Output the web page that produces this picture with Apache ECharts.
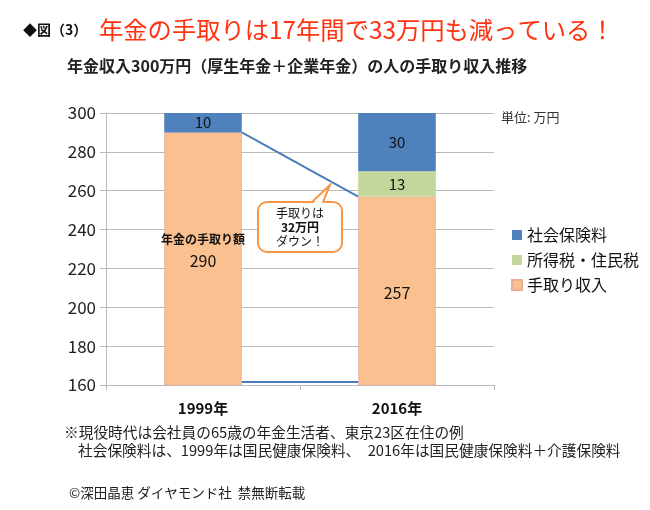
<!DOCTYPE html>
<html><head><meta charset="utf-8">
<script src="https://cdn.jsdelivr.net/npm/echarts@6/dist/echarts.min.js"></script>
<style>html,body{margin:0;padding:0;background:#fff}#c{width:650px;height:510px}</style>
</head><body><div id="c"></div>
<script>
const categories = ['1999年', '2016年'];
const takeHome = [290, 257];
const incomeTax = [0, 13];
const socialIns = [10, 30];
const yTicks = [160, 180, 200, 220, 240, 260, 280, 300];
const legendNames = ['社会保険料', '所得税・住民税', '手取り収入'];

const FONT = '"Noto Sans CJK JP", "Noto Sans", sans-serif';
const chart = echarts.init(document.getElementById('c'));
const yMin = yTicks[0], yMax = yTicks[yTicks.length - 1];
const yStep = yTicks[1] - yTicks[0];
const BAR_RATIO = 0.4;

const connectorData = [
  [0, takeHome[0], 1, takeHome[1], 0],
  [0, yMin, 1, yMin, -3]
];

const lbl = (v) => v.value ? String(v.value) : '';

chart.setOption({
  animation: false,
  textStyle: { fontFamily: FONT },
  title: [
    { text: '◆図（3）', left: 18, top: 18, textStyle: { fontSize: 14, fontWeight: 'bold', color: '#111', fontFamily: FONT } },
    { text: '年金の手取りは17年間で33万円も減っている！', left: 94, top: 13, textStyle: { fontSize: 24.3, fontWeight: 'normal', color: '#FF3311', fontFamily: FONT } },
    { text: '年金収入300万円（厚生年金＋企業年金）の人の手取り収入推移', left: 62, top: 53, textStyle: { fontSize: 16, fontWeight: 'bold', color: '#222', fontFamily: FONT } },
    { text: '単位: 万円', left: 496, top: 106, textStyle: { fontSize: 13, fontWeight: 'normal', color: '#333', fontFamily: FONT } },
    { text: '※現役時代は会社員の65歳の年金生活者、東京23区在住の例', left: 59, top: 420, textStyle: { fontSize: 14.7, fontWeight: 'normal', color: '#222', fontFamily: FONT } },
    { text: '社会保険料は、1999年は国民健康保険料、　2016年は国民健康保険料＋介護保険料', left: 73, top: 438, textStyle: { fontSize: 14.7, fontWeight: 'normal', color: '#222', fontFamily: FONT } },
    { text: '©深田晶恵 ダイヤモンド社  禁無断転載', left: 64, top: 481, textStyle: { fontSize: 13.5, fontWeight: 'normal', color: '#222', fontFamily: FONT } }
  ],
  legend: {
    data: legendNames,
    orient: 'vertical',
    left: 506,
    top: 222,
    itemWidth: 10,
    itemHeight: 10,
    itemGap: 9,
    icon: 'rect',
    textStyle: { fontSize: 16, color: '#111', fontFamily: FONT }
  },
  grid: { left: 106, right: 156, top: 113, bottom: 125 },
  xAxis: {
    type: 'category',
    data: categories,
    axisLine: { lineStyle: { color: '#BBBBBB', width: 1 } },
    axisTick: { show: true, length: 5, lineStyle: { color: '#BBBBBB' } },
    axisLabel: { fontSize: 15, fontWeight: 'bold', color: '#111', margin: 16 }
  },
  yAxis: {
    type: 'value',
    min: yMin, max: yMax, interval: yStep,
    axisLine: { show: true, lineStyle: { color: '#BBBBBB', width: 1 } },
    axisTick: { show: true, length: 6, lineStyle: { color: '#BBBBBB' } },
    axisLabel: { fontSize: 17, color: '#222', margin: 10 },
    splitLine: { lineStyle: { color: '#BBBBBB', width: 1.2 } }
  },
  series: [
    {
      name: '手取り収入', type: 'bar', stack: 'total', data: takeHome,
      barWidth: (BAR_RATIO * 100) + '%',
      itemStyle: { color: '#FAC090', borderColor: '#E8AE9A', borderWidth: 0.8 },
      label: {
        show: true, position: 'inside', color: '#111',
        formatter: (p) => p.dataIndex === 0 ? '{n|年金の手取り額}\n{v|' + p.value + '}' : '{v|' + p.value + '}',
        rich: {
          n: { fontSize: 12, fontWeight: 'bold', color: '#111', lineHeight: 22, fontFamily: FONT },
          v: { fontSize: 16, color: '#111', lineHeight: 20, fontFamily: FONT }
        }
      },
      labelLayout: (p) => p.dataIndex === 0 ? { dy: -9 } : { dy: 2 }
    },
    {
      name: '所得税・住民税', type: 'bar', stack: 'total', data: incomeTax,
      itemStyle: { color: '#C3D69B' },
      label: { show: true, position: 'inside', color: '#111', fontSize: 15, formatter: lbl }
    },
    {
      name: '社会保険料', type: 'bar', stack: 'total', data: socialIns,
      itemStyle: { color: '#4F81BD' },
      label: { show: true, position: 'inside', color: '#111', fontSize: 15, formatter: lbl }
    },
    {
      type: 'custom',
      silent: true,
      z: 5,
      data: connectorData,
      encode: { x: 0, y: 1 },
      renderItem: function (params, api) {
        const p0 = api.coord([api.value(0), api.value(1)]);
        const p1 = api.coord([api.value(2), api.value(3)]);
        const band = api.size([1, 0])[0];
        const half = band * BAR_RATIO / 2;
        const dy = api.value(4);
        return {
          type: 'line',
          shape: { x1: p0[0] + half, y1: p0[1] + dy, x2: p1[0] - half, y2: p1[1] + dy },
          style: { stroke: '#4A7EBB', lineWidth: 2 }
        };
      }
    }
  ],
  graphic: [
    { type: 'rect', shape: { x: 258, y: 202, width: 84, height: 50, r: 9 }, style: { fill: '#fff', stroke: '#F79646', lineWidth: 2 }, z: 10 },
    { type: 'polygon', shape: { points: [[313, 203.5], [330, 185], [322, 203.5]] }, style: { fill: '#fff' }, z: 11 },
    { type: 'polyline', shape: { points: [[312, 202], [330, 185], [323, 202]] }, style: { stroke: '#F79646', lineWidth: 2, fill: null }, z: 12 },
    {
      type: 'text', x: 300, y: 227, z: 13,
      style: {
        text: '手取りは\n{b|32万円}\nダウン！',
        align: 'center', verticalAlign: 'middle',
        fontSize: 12, lineHeight: 14, fill: '#111', fontFamily: FONT,
        rich: { b: { fontSize: 12, fontWeight: 'bold', lineHeight: 14, fill: '#111', fontFamily: FONT } }
      }
    }
  ]
});
</script></body></html>
